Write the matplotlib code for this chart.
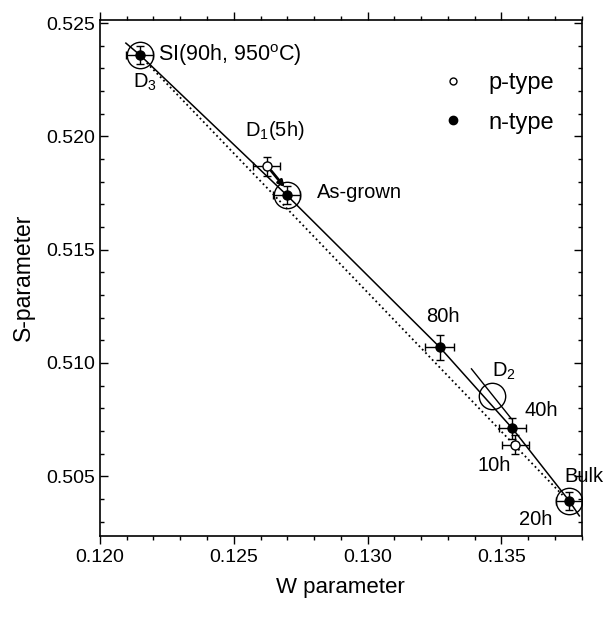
import matplotlib.pyplot as plt
from matplotlib.lines import Line2D
from matplotlib.ticker import MultipleLocator, FormatStrFormatter

plt.rcParams['font.family'] = ['Liberation Sans', 'DejaVu Sans']
plt.rcParams['mathtext.fontset'] = 'custom'
plt.rcParams['mathtext.rm'] = 'Liberation Sans'
plt.rcParams['mathtext.it'] = 'Liberation Sans'

# n-type samples (filled)
n_names = ['SI', 'As-grown', '80h', '40h', 'Bulk']
n_w = [0.12149, 0.12698, 0.13269, 0.13541, 0.13754]
n_s = [0.52360, 0.51741, 0.51070, 0.50711, 0.50390]
n_werr = [0.0005, 0.0005, 0.00054, 0.0005, 0.0005]
n_serr = [0.0004, 0.0004, 0.00055, 0.00045, 0.0004]

# p-type samples (open)
p_names = ['D1(5h)', '10h']
p_w = [0.12623, 0.13552]
p_s = [0.51868, 0.50640]
p_werr = [0.0005, 0.0005]
p_serr = [0.00043, 0.0004]

# defect states marked with big circles
d_w = [0.12149, 0.12698, 0.13466, 0.13754]
d_s = [0.52360, 0.51741, 0.50853, 0.50390]

# guide lines
solid_w = [0.12097] + n_w + [0.13791]
solid_s = [0.52412] + n_s + [0.50325]
dot_w = [0.12175, 0.13728]
dot_s = [0.52325, 0.50417]
d2_w = [0.13388, 0.13537]
d2_s = [0.50974, 0.50754]

fig = plt.figure(figsize=(6.13, 6.18), dpi=100)
ax = fig.add_axes([0.163, 0.133, 0.786, 0.835])

ax.plot(solid_w, solid_s, '-', color='black', lw=1.1, zorder=2)
ax.plot(dot_w, dot_s, ':', color='black', lw=1.3, zorder=2)
ax.plot(d2_w, d2_s, '-', color='black', lw=1.0, zorder=2)

ax.plot(d_w, d_s, 'o', ms=19, mfc='none', mec='black', mew=1.0, zorder=3)

ax.errorbar(n_w, n_s, xerr=n_werr, yerr=n_serr, fmt='o', ms=6.5,
            mfc='black', mec='black', ecolor='black', elinewidth=1.0,
            capsize=3, capthick=1.0, zorder=4)
ax.errorbar(p_w, p_s, xerr=p_werr, yerr=p_serr, fmt='o', ms=6.5,
            mfc='white', mec='black', mew=1.0, ecolor='black',
            elinewidth=1.0, capsize=3, capthick=1.0, zorder=4)

# arrow from D1 toward as-grown
ax.annotate('', xy=(0.12690, 0.51776), xytext=(0.12640, 0.51848),
            arrowprops=dict(arrowstyle='-|>', lw=2.0, color='black',
                            mutation_scale=9, shrinkA=0, shrinkB=0))

fs = 14.5
ax.text(0.12216, 0.5236, 'SI(90h, 950$^{o}$C)', fontsize=15.5, va='center')
ax.text(0.12123, 0.5224, 'D$_3$', fontsize=fs, va='center')
ax.text(0.12541, 0.52026, 'D$_1$(5h)', fontsize=fs, va='center')
ax.text(0.12810, 0.51754, 'As-grown', fontsize=fs, va='center')
ax.text(0.13220, 0.51206, '80h', fontsize=fs, va='center')
ax.text(0.13463, 0.50965, 'D$_2$', fontsize=fs, va='center')
ax.text(0.13586, 0.50789, '40h', fontsize=fs, va='center')
ax.text(0.13410, 0.50548, '10h', fontsize=fs, va='center')
ax.text(0.13735, 0.50500, 'Bulk', fontsize=fs, va='center')
ax.text(0.13567, 0.50307, '20h', fontsize=fs, va='center')

handles = [Line2D([], [], ls='none', marker='o', ms=5, mfc='white', mec='black'),
           Line2D([], [], ls='none', marker='o', ms=6, mfc='black', mec='black')]
ax.legend(handles, ['p-type', 'n-type'], loc='upper left',
          bbox_to_anchor=(0.665, 0.94), frameon=False, fontsize=17,
          labelspacing=0.75, handletextpad=1.0, handlelength=1.0)

ax.set_xlim(0.120, 0.138)
ax.set_ylim(0.50237, 0.52515)
ax.xaxis.set_major_locator(MultipleLocator(0.005))
ax.xaxis.set_minor_locator(MultipleLocator(0.001))
ax.yaxis.set_major_locator(MultipleLocator(0.005))
ax.yaxis.set_minor_locator(MultipleLocator(0.001))
ax.xaxis.set_major_formatter(FormatStrFormatter('%.3f'))
ax.yaxis.set_major_formatter(FormatStrFormatter('%.3f'))
ax.tick_params(which='both', top=True, right=True, direction='in',
               labelsize=14, width=1.0)
ax.tick_params(axis='x', which='both', bottom=True, direction='out')
ax.tick_params(which='major', length=6)
ax.tick_params(which='minor', length=3)
for sp in ax.spines.values():
    sp.set_linewidth(1.2)

ax.set_xlabel('W parameter', fontsize=16, labelpad=8)
ax.set_ylabel('S-parameter', fontsize=16.5, labelpad=8)

fig.savefig('out.png', dpi=100)
